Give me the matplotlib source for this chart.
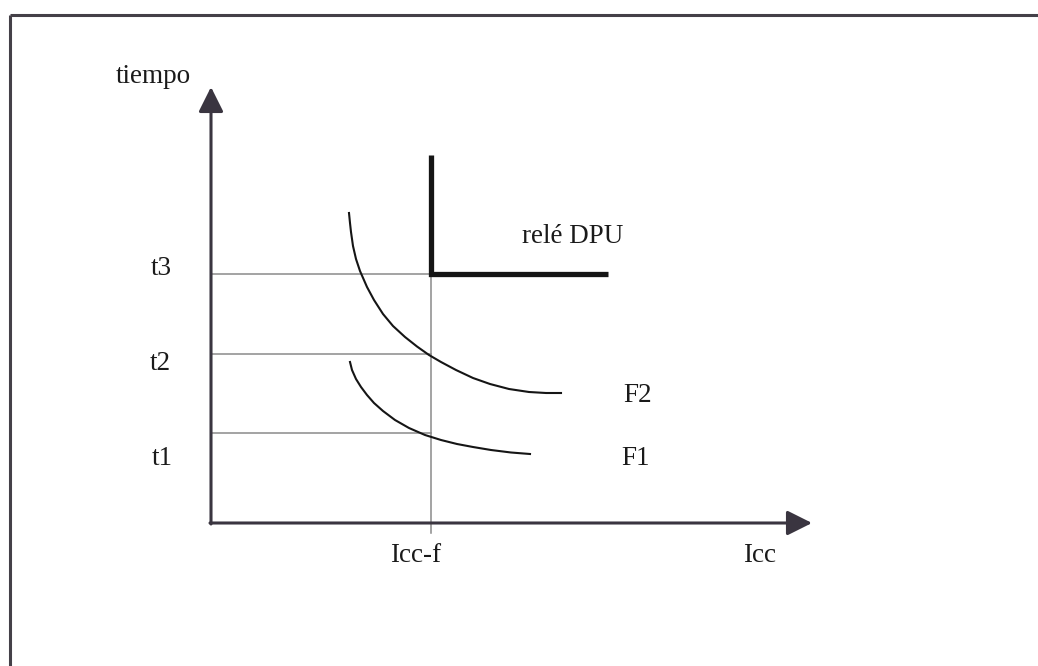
import matplotlib
matplotlib.use("Agg")
import matplotlib.pyplot as plt

# ---- diagram data (origin = corner of the axes) ----
t_levels = {"t1": 90, "t2": 169, "t3": 249}
icc_f = 220
y_axis_top = 436
x_axis_end = 601

relay_x = [220, 220, 397]
relay_y = [368, 249, 249]

f2_x = [138, 139, 140, 142, 145, 149, 156, 163, 172, 182, 194, 206, 218, 230, 245, 262, 279, 298, 318, 335, 350]
f2_y = [310, 300, 291, 277, 264, 252, 236, 223, 209, 197, 186, 176.5, 168, 161, 153, 145, 139, 134, 131, 130, 130]

f1_x = [139, 141, 145, 150, 156, 163, 172, 184, 198, 214, 230, 246, 262, 280, 300, 319]
f1_y = [161, 153, 144, 136, 128, 120, 112, 103, 95, 88, 83, 79, 76, 73, 70.5, 69]

labels_t = ["t1", "t2", "t3"]

W, H, DPI = 1038, 666, 100
fig = plt.figure(figsize=(W / DPI, H / DPI), dpi=DPI)
ax = fig.add_axes([0, 0, 1, 1])
ax.set_xlim(-211, W - 211)
ax.set_ylim(523 - H, 523)
ax.axis("off")

font = dict(family="Liberation Serif", fontsize=19.5, color="#1a1a1a")
axis_col = "#3a3540"
grid_col = "#8a8a8a"

# outer frame (left and top edges)
ax.plot([-201, -201], [523 - H, 508], color="#444048", lw=2.2, solid_capstyle="butt")
ax.plot([-201, W - 211], [508, 508], color="#444048", lw=2.2, solid_capstyle="butt")

# guide lines
for name in labels_t:
    ax.plot([0, icc_f], [t_levels[name]] * 2, color=grid_col, lw=1.1)
ax.plot([icc_f, icc_f], [-10, t_levels["t3"]], color=grid_col, lw=1.1)

# axes with arrows
arrow = dict(arrowstyle="-|>,head_length=0.4,head_width=0.2", mutation_scale=38,
             lw=2.2, color=axis_col, shrinkA=0, shrinkB=0)
ax.annotate("", xy=(0, y_axis_top), xytext=(0, -1), arrowprops=arrow)
ax.annotate("", xy=(x_axis_end, 0), xytext=(-1, 0), arrowprops=arrow)

# curves
ax.plot(f2_x, f2_y, color="#151515", lw=1.5, solid_joinstyle="round")
ax.plot(f1_x, f1_y, color="#151515", lw=1.5, solid_joinstyle="round")

# relay characteristic
ax.plot(relay_x, relay_y, color="#151515", lw=3.8, solid_joinstyle="miter", solid_capstyle="butt")

# texts
ax.text(-58, 440, "tiempo", ha="center", va="baseline", **font)
ax.text(-60, 248, "t3", ha="left", va="baseline", **font)
ax.text(-61, 153, "t2", ha="left", va="baseline", **font)
ax.text(-59, 58, "t1", ha="left", va="baseline", **font)
ax.text(311, 280, "relé DPU", ha="left", va="baseline", **font)
ax.text(412, 121, "F2", ha="left", va="baseline", **font)
ax.text(410, 58, "F1", ha="left", va="baseline", **font)
ax.text(205, -39, "Icc-f", ha="center", va="baseline", **font)
ax.text(532, -39, "Icc", ha="left", va="baseline", **font)

fig.savefig("out.png", dpi=DPI, facecolor="white")
